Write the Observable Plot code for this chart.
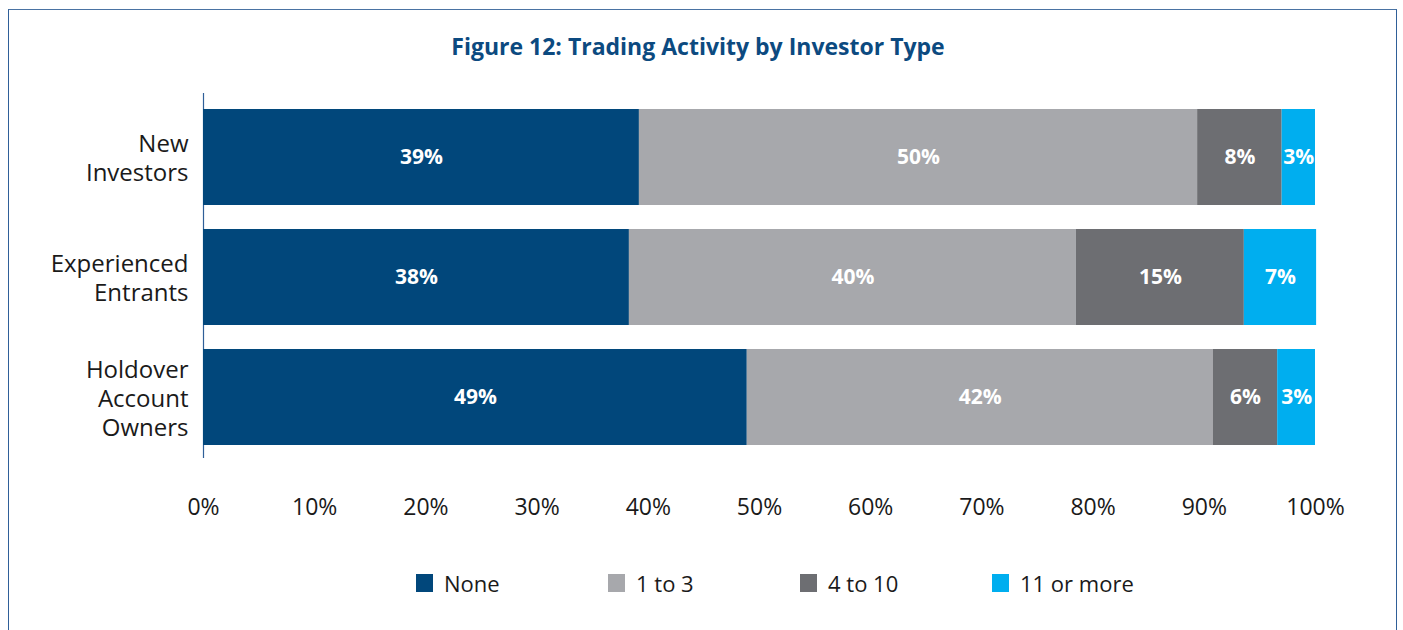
<!DOCTYPE html>
<html>
<head>
<meta charset="utf-8">
<script src="https://cdn.jsdelivr.net/npm/d3@7"></script>
<script src="https://cdn.jsdelivr.net/npm/@observablehq/plot@0.6"></script>
<style>
  html, body { margin: 0; padding: 0; background: #fff; }
  body { width: 1403px; height: 630px; overflow: hidden; position: relative; font-family: "Open Sans", sans-serif; }
  #frame { position: absolute; left: 8px; top: 9px; width: 1389px; height: 700px;
           border-top: 1.5px solid #4a73a3; border-left: 1.5px solid #2f5f98; border-right: 1.5px solid #2f5f98; box-sizing: border-box; }
  #title { position: absolute; left: 0; top: 35px; width: 1396px; text-align: center;
           font-size: 23px; line-height: 23px; font-weight: 700; color: #0c4a80; }
  #chart { position: absolute; left: 0; top: 0; }
  #legend { position: absolute; left: 416px; top: 572px; height: 24px; }
  .item { position: absolute; top: 0; height: 24px; white-space: nowrap; font-size: 22px; line-height: 22px; color: #1a1a1a; }
  .sw { position: absolute; left: 0; top: 2px; width: 17px; height: 18px; }
  .lab { position: absolute; left: 28px; top: 0; }
</style>
</head>
<body>
<div id="frame"></div>
<div id="chart"></div>
<div id="title">Figure 12: Trading Activity by Investor Type</div>
<div id="legend"></div>
<script>
// ---- data ----
const categories = ["New Investors", "Experienced Entrants", "Holdover Account Owners"];
const categoryLabels = ["New\nInvestors", "Experienced\nEntrants", "Holdover\nAccount\nOwners"];
const series = ["None", "1 to 3", "4 to 10", "11 or more"];
const valuesNone = [39.2, 38.3, 48.9];
const values1to3 = [50.2, 40.2, 41.9];
const values4to10 = [7.6, 15.1, 5.8];
const values11plus = [3.0, 6.5, 3.4];
const seriesColors = ["#01477b", "#a7a8ac", "#6d6e72", "#00aeef"];
const xTicks = [0, 10, 20, 30, 40, 50, 60, 70, 80, 90, 100];

const seriesValues = [valuesNone, values1to3, values4to10, values11plus];
const data = [];
categories.forEach((c, i) => {
  series.forEach((s, j) => data.push({category: c, series: s, value: seriesValues[j][i]}));
});

const chart = Plot.plot({
  width: 1403,
  height: 540,
  marginLeft: 203,
  marginRight: 88,
  marginTop: 97,
  marginBottom: 83,
  style: {fontFamily: "'Open Sans', sans-serif", background: "transparent", color: "#1a1a1a"},
  x: {domain: [0, 100]},
  y: {domain: categories, paddingInner: 0.2, paddingOuter: 0.1},
  color: {domain: series, range: seriesColors},
  marks: [
    Plot.ruleX([0], {stroke: "#2f5f98", strokeWidth: 1.2, insetTop: -4, insetBottom: -1}),
    Plot.barX(data, {x: "value", y: "category", fill: "series", order: series}),
    Plot.text(data, Plot.stackX({
      x: "value", y: "category", z: "series", order: series,
      text: d => Math.round(d.value) + "%",
      fill: "white", fontWeight: "bold", fontSize: 21
    })),
    Plot.axisX({ticks: xTicks, tickFormat: d => d + "%", tickSize: 0, tickPadding: 41,
                fontSize: 23, fill: "#1a1a1a", label: null}),
    Plot.axisY({tickSize: 0, tickPadding: 15, fontSize: 24, lineHeight: 1.2, fill: "#1a1a1a",
                tickFormat: d => categoryLabels[categories.indexOf(d)], label: null})
  ]
});
document.getElementById("chart").appendChild(chart);

// legend
const legend = document.getElementById("legend");
series.forEach((s, i) => {
  const item = document.createElement("div");
  item.className = "item";
  item.style.left = (i * 192) + "px";
  const sw = document.createElement("div");
  sw.className = "sw";
  sw.style.background = seriesColors[i];
  const lab = document.createElement("div");
  lab.className = "lab";
  lab.textContent = s;
  item.appendChild(sw);
  item.appendChild(lab);
  legend.appendChild(item);
});
</script>
</body>
</html>
